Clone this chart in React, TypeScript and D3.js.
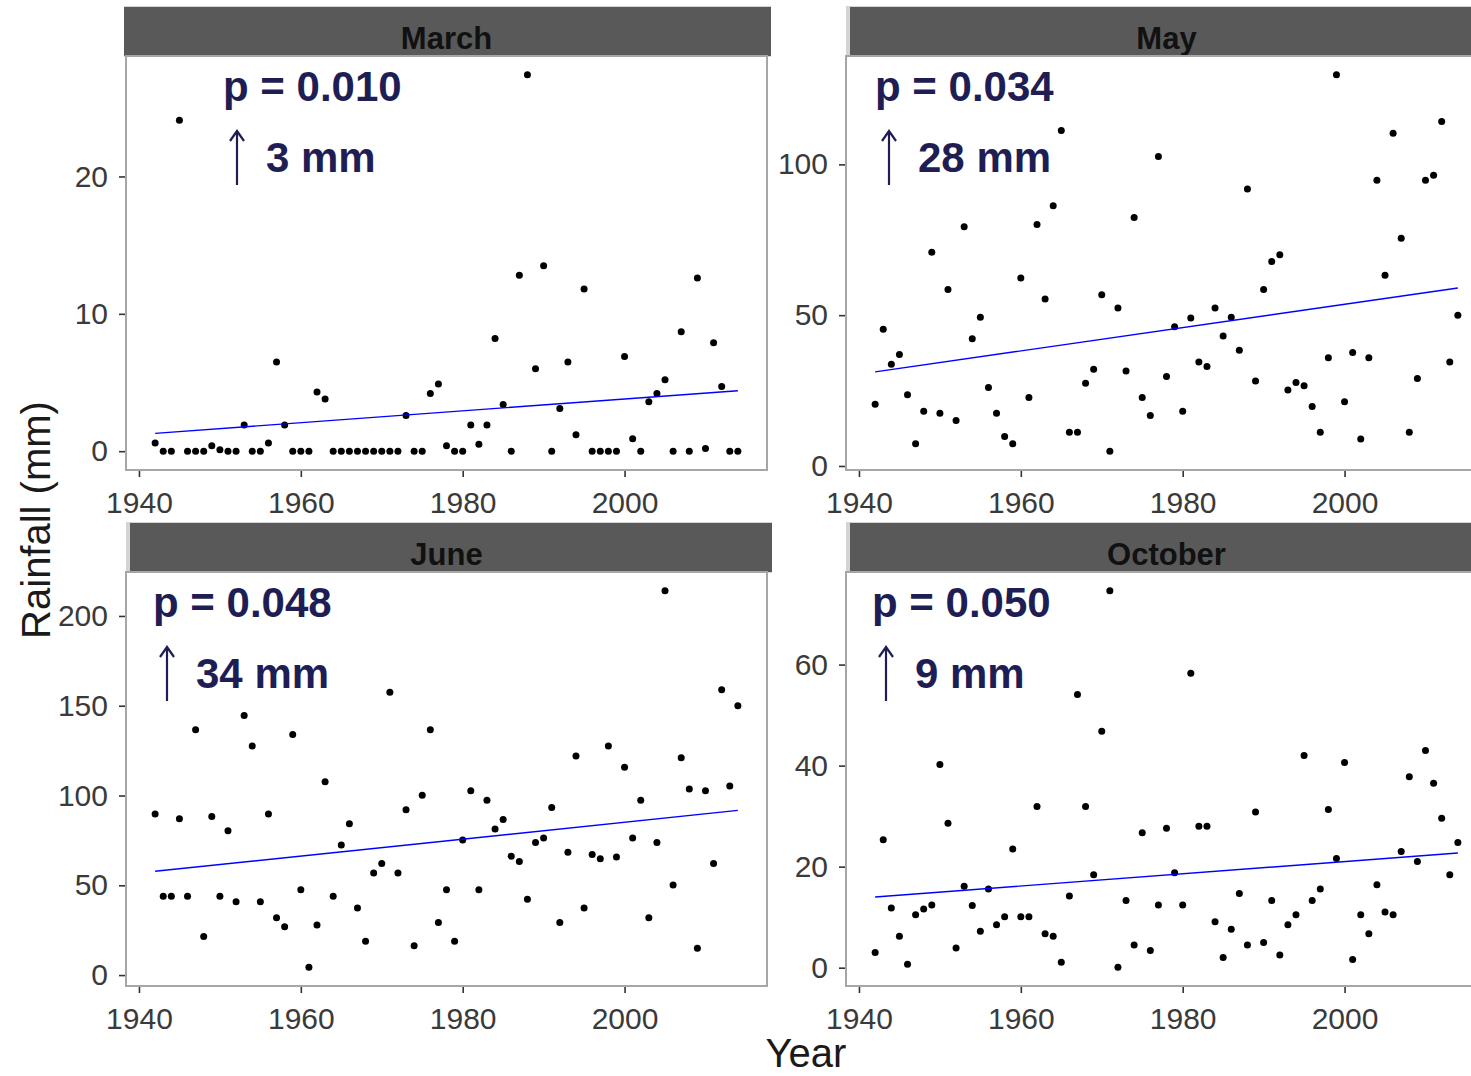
import React, { useEffect, useRef } from "react";
import * as d3 from "d3";

// one rainfall value per year
const years = [
  1942, 1943, 1944, 1945, 1946, 1947, 1948, 1949, 1950, 1951,
  1952, 1953, 1954, 1955, 1956, 1957, 1958, 1959, 1960, 1961,
  1962, 1963, 1964, 1965, 1966, 1967, 1968, 1969, 1970, 1971,
  1972, 1973, 1974, 1975, 1976, 1977, 1978, 1979, 1980, 1981,
  1982, 1983, 1984, 1985, 1986, 1987, 1988, 1989, 1990, 1991,
  1992, 1993, 1994, 1995, 1996, 1997, 1998, 1999, 2000, 2001,
  2002, 2003, 2004, 2005, 2006, 2007, 2008, 2009, 2010, 2011,
  2012, 2013, 2014,
];

const months = ["March", "May", "June", "October"];

const march = [
  0.6, 0, 0, 24.1, 0, 0, 0, 0.4, 0.1, 0,
  0, 1.9, 0, 0, 0.6, 6.5, 1.9, 0, 0, 0,
  4.3, 3.8, 0, 0, 0, 0, 0, 0, 0, 0,
  0, 2.6, 0, 0, 4.2, 4.9, 0.4, 0, 0, 1.9,
  0.5, 1.9, 8.2, 3.4, 0, 12.8, 27.4, 6.0, 13.5, 0,
  3.1, 6.5, 1.2, 11.8, 0, 0, 0, 0, 6.9, 0.9,
  0, 3.6, 4.2, 5.2, 0, 8.7, 0, 12.6, 0.2, 7.9,
  4.7, 0, 0,
];

const may = [
  20.5, 45.3, 33.7, 37.0, 23.6, 7.4, 18.1, 70.9, 17.5, 58.5,
  15.1, 79.3, 42.2, 49.3, 26.0, 17.5, 9.8, 7.4, 62.3, 22.7,
  80.1, 55.4, 86.3, 111.2, 11.2, 11.2, 27.4, 32.1, 56.8, 4.9,
  52.4, 31.5, 82.4, 22.7, 16.7, 102.6, 29.7, 46.2, 18.1, 49.1,
  34.5, 33.0, 52.4, 43.1, 49.3, 38.4, 91.8, 28.2, 58.5, 67.8,
  70.0, 25.2, 27.7, 26.6, 19.7, 11.2, 35.9, 129.7, 21.3, 37.6,
  8.9, 35.9, 94.7, 63.2, 110.3, 75.5, 11.2, 29.0, 94.7, 96.4,
  114.2, 34.5, 50.0,
];

const june = [
  89.7, 43.9, 43.9, 87.1, 43.9, 136.6, 21.5, 88.3, 43.9, 80.4,
  40.9, 144.6, 127.6, 40.9, 89.7, 31.9, 26.9, 134.0, 47.5, 4.4,
  27.9, 107.7, 43.9, 72.4, 84.3, 37.3, 18.9, 56.8, 62.2, 157.5,
  56.8, 92.1, 16.4, 100.1, 136.6, 29.3, 47.5, 18.9, 75.2, 102.7,
  47.5, 97.3, 81.4, 86.7, 66.2, 63.2, 42.3, 73.8, 76.4, 93.3,
  29.3, 68.4, 122.0, 37.3, 67.2, 64.8, 127.6, 65.8, 115.7, 76.4,
  97.3, 31.9, 73.8, 214.0, 50.2, 121.0, 103.7, 15.0, 102.7, 62.2,
  158.9, 105.3, 150.0,
];

const october = [
  3.0, 25.3, 11.8, 6.2, 0.7, 10.5, 11.6, 12.4, 40.2, 28.6,
  3.9, 16.1, 12.3, 7.2, 15.6, 8.5, 10.1, 23.5, 10.1, 10.1,
  31.9, 6.7, 6.2, 1.1, 14.2, 54.1, 31.9, 18.4, 46.8, 74.6,
  0.1, 13.3, 4.5, 26.7, 3.4, 12.4, 27.6, 18.8, 12.4, 58.3,
  28.0, 28.0, 9.1, 2.0, 7.6, 14.7, 4.5, 30.8, 5.0, 13.3,
  2.5, 8.5, 10.5, 42.0, 13.3, 15.6, 31.3, 21.6, 40.6, 1.6,
  10.5, 6.7, 16.4, 11.0, 10.5, 23.0, 37.8, 21.0, 43.0, 36.5,
  29.6, 18.4, 24.8,
];

// fitted lm line at first and last year
const trendStart = [1.3, 31.2, 57.8, 14.0];
const trendEnd = [4.4, 59.0, 91.7, 22.7];

const pLabels = ["p = 0.010", "p = 0.034", "p = 0.048", "p = 0.050"];
const changeLabels = ["3 mm", "28 mm", "34 mm", "9 mm"];

const xTicks = [1940, 1960, 1980, 2000];
const yTicks = [
  [0, 10, 20],
  [0, 50, 100],
  [0, 50, 100, 150, 200],
  [0, 20, 40, 60],
];

const series = [march, may, june, october];

function expand(ext: number[]) {
  const pad = (ext[1] - ext[0]) * 0.05;
  return [ext[0] - pad, ext[1] + pad];
}

function App() {
  const canvas = useRef<HTMLDivElement>(null);

  useEffect(() => {
    const width = 1471;
    const height = 1076;
    const panelW = 641;
    const panelH = 414;
    const lefts = [126, 846];
    const tops = [56, 572];
    const noteX = [97, 29, 27, 26];
    const stripBand = [0, 5, 5, 5];
    const font = "'Liberation Sans', Arial, sans-serif";
    const navy = "#1e1e55";

    d3.select(canvas.current).selectAll("*").remove();

    const svg = d3
      .select(canvas.current)
      .append("svg")
      .attr("width", width)
      .attr("height", height)
      .style("position", "absolute")
      .style("left", "0px")
      .style("top", "0px")
      .style("font-family", font);

    svg.append("rect").attr("width", width).attr("height", height).attr("fill", "white");

    const x = d3
      .scaleLinear()
      .domain(expand(d3.extent(years) as number[]))
      .range([0, panelW]);

    series.forEach((vals, i) => {
      const left = lefts[i % 2];
      const top = tops[Math.floor(i / 2)];
      const y = d3
        .scaleLinear()
        .domain(expand(d3.extent(vals) as number[]))
        .range([panelH, 0]);

      const g = svg.append("g").attr("transform", `translate(${left},${top})`);

      // strip
      const band = stripBand[i];
      g.append("rect")
        .attr("x", band ? 0 : -2)
        .attr("y", -50)
        .attr("width", panelW + (band ? 5 : 6))
        .attr("height", 51)
        .attr("fill", "#d4d4d4");
      g.append("rect")
        .attr("x", band ? band - 1 : -2)
        .attr("y", -49)
        .attr("width", panelW + (band ? 6 - band : 6))
        .attr("height", 49)
        .attr("fill", "#595959");
      g.append("text")
        .attr("x", panelW / 2)
        .attr("y", -7.5)
        .attr("text-anchor", "middle")
        .attr("font-size", 31)
        .attr("font-weight", "bold")
        .attr("fill", "#111")
        .text(months[i]);

      // axes
      const ax = g
        .append("g")
        .attr("transform", `translate(0,${panelH})`)
        .call(d3.axisBottom(x).tickValues(xTicks).tickFormat(d3.format("d")).tickSize(7).tickPadding(14.5));
      const ay = g
        .append("g")
        .call(d3.axisLeft(y).tickValues(yTicks[i]).tickSize(7).tickPadding(11));
      [ax, ay].forEach((a) => {
        a.select(".domain").remove();
        a.selectAll("line").attr("stroke", "#333").attr("stroke-width", 1.6);
        a.selectAll("text")
          .attr("font-size", 30)
          .attr("fill", "#3a3a3a")
          .attr("font-family", font);
      });

      // points
      g.append("g")
        .selectAll("circle")
        .data(vals)
        .enter()
        .append("circle")
        .attr("cx", (d, k) => x(years[k]))
        .attr("cy", (d) => y(d))
        .attr("r", 3.5)
        .attr("fill", "black");

      // trend line
      const line = d3
        .line<number>()
        .x((d, k) => x(k === 0 ? years[0] : years[years.length - 1]))
        .y((d) => y(d));
      g.append("path")
        .attr("d", line([trendStart[i], trendEnd[i]]))
        .attr("fill", "none")
        .attr("stroke", "#0000ff")
        .attr("stroke-width", 1.4);

      // panel border
      g.append("rect")
        .attr("width", panelW)
        .attr("height", panelH)
        .attr("fill", "none")
        .attr("stroke", "#a6a6a6")
        .attr("stroke-width", 2);

      // annotation
      const nx = noteX[i];
      g.append("text")
        .attr("x", nx)
        .attr("y", 44.5)
        .attr("font-size", 42)
        .attr("font-weight", "bold")
        .attr("fill", navy)
        .text(pLabels[i]);
      g.append("path")
        .attr("d", `M${nx + 14},129 L${nx + 14},75 M${nx + 7},85 L${nx + 14},75 L${nx + 21},85`)
        .attr("fill", "none")
        .attr("stroke", navy)
        .attr("stroke-width", 2.2);
      g.append("text")
        .attr("x", nx + 43)
        .attr("y", 116)
        .attr("font-size", 42)
        .attr("font-weight", "bold")
        .attr("fill", navy)
        .text(changeLabels[i]);
    });

    svg
      .append("text")
      .attr("x", 806)
      .attr("y", 1067)
      .attr("text-anchor", "middle")
      .attr("font-size", 40)
      .attr("fill", "#1a1a1a")
      .text("Year");

    svg
      .append("text")
      .attr("transform", "translate(50,520) rotate(-90)")
      .attr("text-anchor", "middle")
      .attr("font-size", 40)
      .attr("fill", "#1a1a1a")
      .text("Rainfall (mm)");
  }, []);

  return <div ref={canvas}></div>;
}

export default App;
